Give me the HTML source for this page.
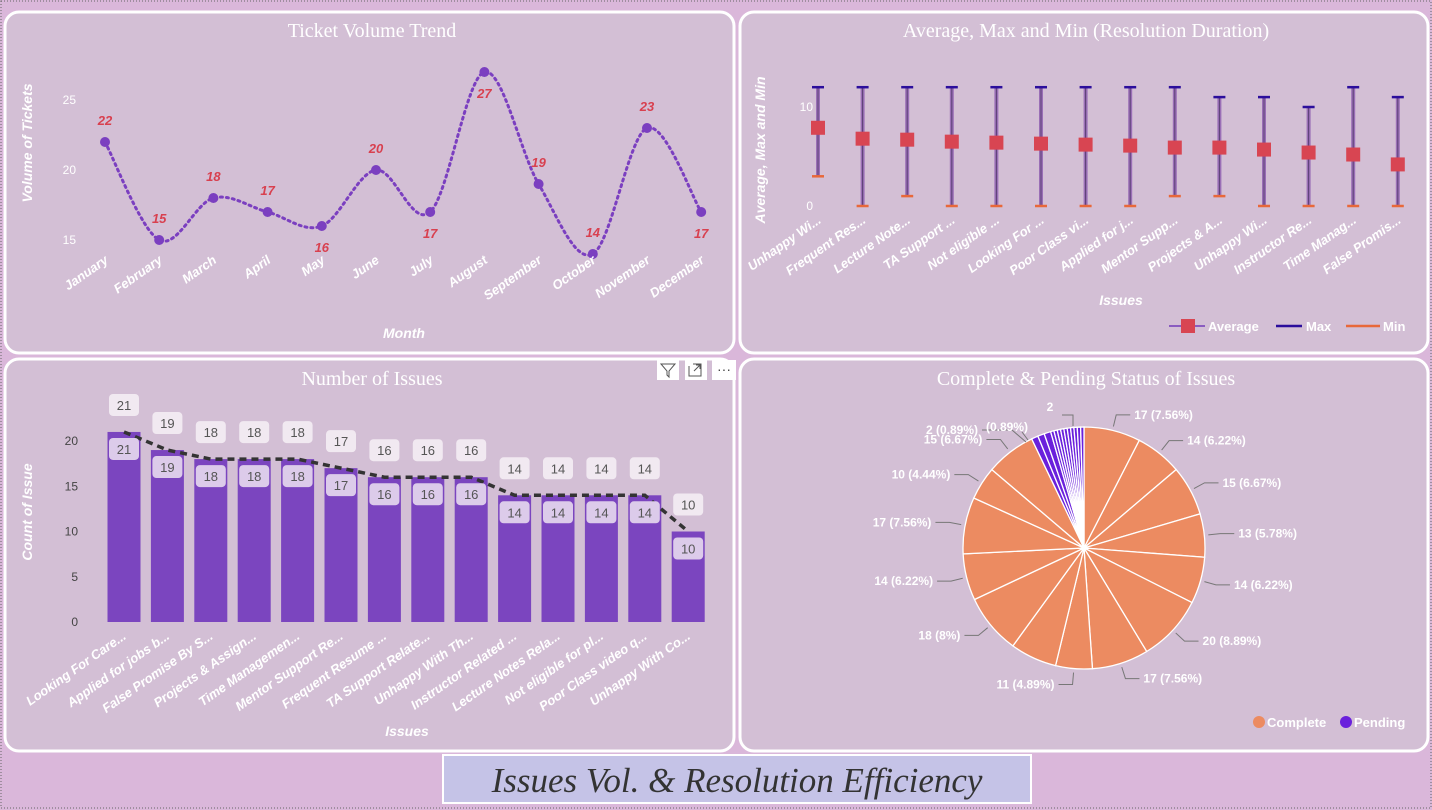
<!DOCTYPE html>
<html><head><meta charset="utf-8">
<style>
html,body{margin:0;padding:0;background:#dab7da;}
svg{display:block;font-family:"Liberation Sans",sans-serif;}
.ttl{font-family:"Liberation Serif",serif;fill:#fff;font-size:20px;}
.tick{fill:#fff;font-size:12px;}
.cat{fill:#fff;font-size:13px;font-style:italic;font-weight:bold;}
.axt{fill:#fff;font-size:14px;font-style:italic;font-weight:bold;}
</style></head><body>
<svg id="s" width="1432" height="810" xmlns="http://www.w3.org/2000/svg">
<rect x="0" y="0" width="1432" height="810" fill="#dab7da"/>
<rect x="1" y="1" width="1430" height="807" fill="none" stroke="#666" stroke-dasharray="1 2"/>
<rect x="5" y="12" width="729" height="341" rx="14" fill="#d3bfd5" stroke="#fff" stroke-width="3"/>
<rect x="740" y="12" width="688" height="341" rx="14" fill="#d3bfd5" stroke="#fff" stroke-width="3"/>
<rect x="5" y="359" width="729" height="392" rx="14" fill="#d3bfd5" stroke="#fff" stroke-width="3"/>
<rect x="740" y="359" width="688" height="392" rx="14" fill="#d3bfd5" stroke="#fff" stroke-width="3"/>
<text class="ttl" x="372" y="37" text-anchor="middle">Ticket Volume Trend</text>
<text class="ttl" x="1086" y="37" text-anchor="middle">Average, Max and Min (Resolution Duration)</text>
<text class="ttl" x="372" y="385" text-anchor="middle">Number of Issues</text>
<text class="ttl" x="1086" y="385" text-anchor="middle">Complete &amp; Pending Status of Issues</text>
<g>
<rect x="657" y="360" width="22" height="20" fill="#fff"/>
<path d="M661,364 L675,364 L669,371 L669,377 L667,375 L667,371 Z" fill="none" stroke="#555" stroke-width="1"/>
<rect x="685" y="360" width="22" height="20" fill="#fff"/>
<path d="M689,366 L689,376 L701,376 L701,364 L693,364 M694,371 L700,365 M696,365 L700,365 L700,369" fill="none" stroke="#555" stroke-width="1"/>
<rect x="712" y="360" width="24" height="20" fill="#fff"/>
<text x="724" y="374" text-anchor="middle" font-size="14" fill="#444">···</text>
</g>
<rect x="443" y="755" width="588" height="48" fill="#c5c3e7" stroke="#fff" stroke-width="2"/>
<text x="737" y="792" text-anchor="middle" font-family="Liberation Serif, serif" font-style="italic" font-size="35" fill="#333">Issues Vol. &amp; Resolution Efficiency</text>
<g id="line"></g><g id="err"></g><g id="bar"></g><g id="pie"></g>
</svg>
<script>
const NS="http://www.w3.org/2000/svg";
function mk(p,t,a,txt){const e=document.createElementNS(NS,t);for(const k in a)e.setAttribute(k,a[k]);if(txt!==undefined)e.textContent=txt;p.appendChild(e);return e;}

// ---- Ticket Volume Trend data ----
const months=["January","February","March","April","May","June","July","August","September","October","November","December"];
const tickets=[22,15,18,17,16,20,17,27,19,14,23,17];
const lineTicks=[15,20,25];
const labelSide=["a","a","a","a","b","a","b","b","a","a","a","b"];

// ---- Resolution data ----
const issuesR=["Unhappy Wi...","Frequent Res...","Lecture Note...","TA Support ...","Not eligible ...","Looking For ...","Poor Class vi...","Applied for j...","Mentor Supp...","Projects & A...","Unhappy Wi...","Instructor Re...","Time Manag...","False Promis..."];
const avgR=[7.9,6.8,6.7,6.5,6.4,6.3,6.2,6.1,5.9,5.9,5.7,5.4,5.2,4.2];
const maxR=[12,12,12,12,12,12,12,12,12,11,11,10,12,11];
const minR=[3,0,1,0,0,0,0,0,1,1,0,0,0,0];
const errTicks=[0,10];

// ---- Number of Issues data ----
const issuesB=["Looking For Care...","Applied for jobs b...","False Promise By S...","Projects & Assign...","Time Managemen...","Mentor Support Re...","Frequent Resume ...","TA Support Relate...","Unhappy With Th...","Instructor Related ...","Lecture Notes Rela...","Not eligible for pl...","Poor Class video q...","Unhappy With Co..."];
const countB=[21,19,18,18,18,17,16,16,16,14,14,14,14,10];
const barTicks=[0,5,10,15,20];

// ---- Pie data ----
const completeVals=[17,14,15,13,14,20,17,11,14,18,14,17,10,15];
const completeLabeled=[1,1,1,1,1,1,1,1,0,1,1,1,1,1];
const pendingVals=[2,2,2,1,1,1,1,1,1,1,1,1,1];

// ===== Line chart =====
(function(){
const g=document.getElementById('line');
const x=i=>105+i*54.2, y=v=>170-(v-20)*14;
lineTicks.forEach(t=>{const e=mk(g,'text',{class:'tick',x:76,y:y(t)+4,'text-anchor':'end'},t);
});
const P=tickets.map((v,i)=>[x(i),y(v)]);
let d="M"+P[0][0]+","+P[0][1];
for(let i=0;i<P.length-1;i++){const p0=P[Math.max(0,i-1)],p1=P[i],p2=P[i+1],p3=P[Math.min(P.length-1,i+2)];
const c1=[p1[0]+(p2[0]-p0[0])/6,p1[1]+(p2[1]-p0[1])/6],c2=[p2[0]-(p3[0]-p1[0])/6,p2[1]-(p3[1]-p1[1])/6];
d+=` C${c1[0]},${c1[1]} ${c2[0]},${c2[1]} ${p2[0]},${p2[1]}`;}
const ln=mk(g,'path',{d:d,fill:'none',stroke:'#7b3fc0','stroke-width':3,'stroke-dasharray':'2 4','stroke-linecap':'round'});

tickets.forEach((v,i)=>{const c=mk(g,'circle',{cx:x(i),cy:y(v),r:5,fill:'#7b3fc0'});

const ly=labelSide[i]==='a'?y(v)-17:y(v)+26;
const t=mk(g,'text',{x:x(i),y:ly,'text-anchor':'middle',fill:'#d8404f','font-size':13,'font-weight':'bold','font-style':'italic'},v);

const m=mk(g,'text',{class:'cat',x:x(i)+4,y:262,'text-anchor':'end',transform:`rotate(-35 ${x(i)+4} 262)`},months[i]);
});
const a1=mk(g,'text',{class:'axt',x:404,y:338,'text-anchor':'middle'},'Month');
const a2=mk(g,'text',{class:'axt',x:32,y:143,'text-anchor':'middle',transform:'rotate(-90 32 143)'},'Volume of Tickets');
})();

// ===== Error bar chart =====
(function(){
const g=document.getElementById('err');
const x=i=>818+i*44.6, y=v=>206-v*9.9;
errTicks.forEach(t=>{const e=mk(g,'text',{class:'tick',x:813,y:y(t)+4,'text-anchor':'end'},t);
});
issuesR.forEach((n,i)=>{const cx=x(i);
const w=mk(g,'line',{x1:cx,x2:cx,y1:y(maxR[i]),y2:y(minR[i]),stroke:'#9a6fb6','stroke-width':4});

mk(g,'line',{x1:cx,x2:cx,y1:y(maxR[i]),y2:y(minR[i]),stroke:'#5a3f74','stroke-width':1});
const mx=mk(g,'line',{x1:cx-6,x2:cx+6,y1:y(maxR[i]),y2:y(maxR[i]),stroke:'#2b0e9c','stroke-width':2.5});

const mn=mk(g,'line',{x1:cx-6,x2:cx+6,y1:y(minR[i]),y2:y(minR[i]),stroke:'#e8683a','stroke-width':2.5});

const av=mk(g,'rect',{x:cx-7,y:y(avgR[i])-7,width:14,height:14,fill:'#d84552'});

const l=mk(g,'text',{class:'cat',x:cx+4,y:222,'text-anchor':'end',transform:`rotate(-35 ${cx+4} 222)`},n);
});
const a1=mk(g,'text',{class:'axt',x:1121,y:305,'text-anchor':'middle'},'Issues');
const a2=mk(g,'text',{class:'axt',x:765,y:150,'text-anchor':'middle',transform:'rotate(-90 765 150)'},'Average, Max and Min');
const lg=mk(g,'g',{});
mk(lg,'line',{x1:1169,x2:1205,y1:326,y2:326,stroke:'#8a5cc0','stroke-width':2});
mk(lg,'rect',{x:1181,y:319,width:14,height:14,fill:'#d84552'});
mk(lg,'text',{x:1208,y:331,fill:'#fff','font-size':13,'font-weight':'bold'},'Average');
mk(lg,'line',{x1:1276,x2:1302,y1:326,y2:326,stroke:'#2b0e9c','stroke-width':2.5});
mk(lg,'text',{x:1306,y:331,fill:'#fff','font-size':13,'font-weight':'bold'},'Max');
mk(lg,'line',{x1:1346,x2:1380,y1:326,y2:326,stroke:'#e8683a','stroke-width':2.5});
mk(lg,'text',{x:1383,y:331,fill:'#fff','font-size':13,'font-weight':'bold'},'Min');
})();

// ===== Bar chart =====
(function(){
const g=document.getElementById('bar');
const x=i=>124+i*43.4, y=v=>622-v*9.05, bw=33;
barTicks.forEach(t=>{const e=mk(g,'text',{class:'tick',x:78,y:y(t)+4,'text-anchor':'end',style:'fill:#444'},t);
});
countB.forEach((v,i)=>{const b=mk(g,'rect',{x:x(i)-bw/2,y:y(v),width:bw,height:y(0)-y(v),fill:'#7b45bf'});
});
const pts=countB.map((v,i)=>x(i)+','+y(v)).join(' ');
const tl=mk(g,'polyline',{points:pts,fill:'none',stroke:'#333','stroke-width':3.5,'stroke-dasharray':'7 5'});

countB.forEach((v,i)=>{
const r1=mk(g,'rect',{x:x(i)-15,y:y(v)-38,width:30,height:22,rx:4,fill:'#f1e9f1'});

mk(g,'text',{x:x(i),y:y(v)-22,'text-anchor':'middle','font-size':13,fill:'#555'},v);
const r2=mk(g,'rect',{x:x(i)-15,y:y(v)+6,width:30,height:22,rx:4,fill:'#dccbea'});

mk(g,'text',{x:x(i),y:y(v)+22,'text-anchor':'middle','font-size':13,fill:'#555'},v);
const l=mk(g,'text',{class:'cat',x:x(i)+3,y:638,'text-anchor':'end',transform:`rotate(-35 ${x(i)+3} 638)`},issuesB[i]);
});
const a1=mk(g,'text',{class:'axt',x:407,y:736,'text-anchor':'middle'},'Issues');
const a2=mk(g,'text',{class:'axt',x:32,y:512,'text-anchor':'middle',transform:'rotate(-90 32 512)'},'Count of Issue');
})();

// ===== Pie chart =====
(function(){
const g=document.getElementById('pie');
const cx=1084,cy=548,R=121;
const all=completeVals.map((v,i)=>({v,c:'#ec8b61',n:'complete-slice-'+i,lab:completeLabeled[i]})).concat(pendingVals.map((v,i)=>({v,c:'#6a20dc',n:'pending-slice-'+i,lab:0})));
const tot=all.reduce((s,o)=>s+o.v,0);
let a=-Math.PI/2;
const pt=(ang,r)=>[cx+r*Math.cos(ang),cy+r*Math.sin(ang)];
all.forEach(o=>{const da=o.v/tot*2*Math.PI,a2=a+da;
const p1=pt(a,R),p2=pt(a2,R);
const s=mk(g,'path',{d:`M${cx},${cy} L${p1[0]},${p1[1]} A${R},${R} 0 ${da>Math.PI?1:0} 1 ${p2[0]},${p2[1]} Z`,fill:o.c,stroke:'#fff','stroke-width':1.3});

if(o.lab){const m=a+da/2,q1=pt(m,R+4),q2=pt(m,R+16),right=Math.cos(m)>=0;
const ex=q2[0]+(right?14:-14);
mk(g,'polyline',{points:`${q1[0]},${q1[1]} ${q2[0]},${q2[1]} ${ex},${q2[1]}`,fill:'none',stroke:'#777','stroke-width':1});
const pct=(o.v/tot*100);const ps=Math.abs(pct-Math.round(pct))<0.005?String(Math.round(pct)):pct.toFixed(2);
const t=mk(g,'text',{x:ex+(right?4:-4),y:q2[1]+4,'text-anchor':right?'start':'end',fill:'#fff','font-size':12,'font-weight':'bold'},`${o.v} (${ps}%)`);
}
a=a2;});
const pl=mk(g,'g',{});
const pct0=(pendingVals[0]/tot*100).toFixed(2);
mk(pl,'polyline',{points:'982,430 1012,430 1026,442',fill:'none',stroke:'#777','stroke-width':1});
mk(pl,'text',{x:978,y:434,'text-anchor':'end',fill:'#fff','font-size':12,'font-weight':'bold'},`${pendingVals[0]} (${pct0}%)`);
mk(pl,'polyline',{points:'1022,432 1028,440',fill:'none',stroke:'#777','stroke-width':1});
mk(pl,'text',{x:1007,y:431,'text-anchor':'middle',fill:'#fff','font-size':12,'font-weight':'bold'},`(${(pendingVals[1]/tot*100).toFixed(2)}%)`);
mk(pl,'polyline',{points:'1062,415 1073,415 1073,426',fill:'none',stroke:'#777','stroke-width':1});
mk(pl,'text',{x:1050,y:411,'text-anchor':'middle',fill:'#fff','font-size':12,'font-weight':'bold'},pendingVals[1]);
const lg=mk(g,'g',{});
mk(lg,'circle',{cx:1259,cy:722,r:6,fill:'#ec8b61'});
mk(lg,'text',{x:1267,y:727,fill:'#fff','font-size':13,'font-weight':'bold'},'Complete');
mk(lg,'circle',{cx:1346,cy:722,r:6,fill:'#6a20dc'});
mk(lg,'text',{x:1354,y:727,fill:'#fff','font-size':13,'font-weight':'bold'},'Pending');
})();
</script>
</body></html>
